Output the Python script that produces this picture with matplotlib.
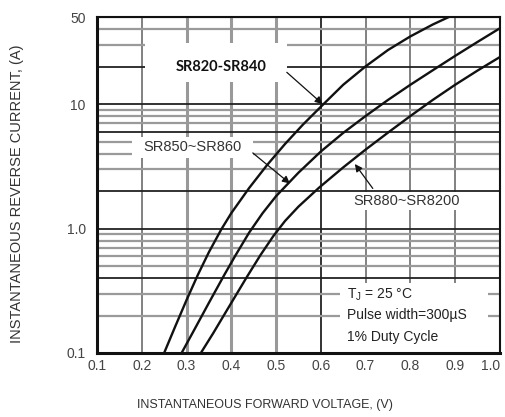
"""
Curva IR vs VF (SR820..SR8200) - recreacion del grafico de hoja de datos.
"""
import matplotlib
matplotlib.use("Agg")
import matplotlib.pyplot as plt
from matplotlib.patches import Rectangle
from matplotlib.ticker import FixedLocator, NullLocator

# ------------------------------------------------------------------ datos
SERIES = ["SR820-SR840", "SR850~SR860", "SR880~SR8200"]
V_820 = [0.250, 0.275, 0.30, 0.325, 0.35, 0.378, 0.40, 0.44, 0.48, 0.52, 0.56, 0.602,
         0.65, 0.70, 0.75, 0.80, 0.85, 0.89]
I_820 = [0.1, 0.164, 0.266, 0.422, 0.646, 0.989, 1.33, 2.12, 3.24, 4.78, 6.84, 9.68,
         14.3, 20.1, 27.2, 35.0, 43.6, 50.9]
V_850 = [0.289, 0.32, 0.35, 0.385, 0.41, 0.44, 0.47, 0.50, 0.55, 0.60, 0.65, 0.70,
         0.75, 0.80, 0.85, 0.90, 0.95, 1.0]
I_850 = [0.1, 0.160, 0.253, 0.428, 0.614, 0.929, 1.33, 1.82, 2.81, 4.16, 5.87, 8.02,
         10.8, 14.3, 18.7, 24.4, 31.6, 40.7]
V_880 = [0.332, 0.36, 0.39, 0.434, 0.465, 0.494, 0.52, 0.55, 0.596, 0.65, 0.70, 0.75,
         0.80, 0.85, 0.90, 0.95, 1.0]
I_880 = [0.1, 0.145, 0.220, 0.404, 0.611, 0.871, 1.15, 1.50, 2.13, 3.10, 4.31, 5.90,
         8.02, 10.8, 14.3, 18.6, 23.9]

X_TICKS = [0.1, 0.2, 0.3, 0.4, 0.5, 0.6, 0.7, 0.8, 0.9, 1.0]
X_LABELS = ["0.1", "0.2", "0.3", "0.4", "0.5", "0.6", "0.7", "0.8", "0.9", "1.0"]
Y_TICKS = [0.1, 1.0, 10.0, 50.0]
Y_LABELS = ["0.1", "1.0", "10", "50"]

COND = ["T$_\\mathregular{J}$ = 25 °C", "Pulse width=300µS", "1% Duty Cycle"]

SANS = ["Liberation Sans", "DejaVu Sans"]
plt.rcParams["font.family"] = SANS
plt.rcParams["mathtext.fontset"] = "custom"
plt.rcParams["mathtext.rm"] = "Liberation Sans"

fig = plt.figure(figsize=(5.05, 4.17), dpi=100)
ax = fig.add_axes([0.192, 0.1535, 0.798, 0.8055])
ax.set_yscale("log")
ax.set_xlim(0.1, 1.0)
ax.set_ylim(0.1, 50)

# rejilla (tipo papel logaritmico escaneado)
vcol = {0.6: "#222222", 0.3: "#999999", 0.4: "#999999", 0.5: "#999999"}
for x in X_TICKS[1:-1]:
    c = vcol.get(round(x, 1), "#777777")
    lw = 2.2 if c == "#999999" else 1.3
    ax.axvline(x, color=c, lw=lw, zorder=1)
dark_h = {2.0, 0.4, 10.0, 20.0, 1.0, 6.0}
for dec in (0.1, 1.0, 10.0):
    for k in range(1, 10):
        y = dec * k
        if y <= 0.1 or y > 50:
            continue
        dark = any(abs(y - d) < 1e-9 for d in dark_h)
        ax.axhline(y, color="#222222" if dark else "#9a9a9a", lw=1.3 if dark else 1.6, zorder=1)

# zonas blancas de las etiquetas
for (x0, y0, w, h) in [(0.119, 0.807, 0.352, 0.116), (0.087, 0.580, 0.300, 0.063),
                       (0.620, 0.426, 0.298, 0.053), (0.603, 0.004, 0.367, 0.204)]:
    ax.add_patch(Rectangle((x0, y0), w, h, transform=ax.transAxes, facecolor="white",
                           edgecolor="none", zorder=2))

# curvas
for v, i in [(V_820, I_820), (V_850, I_850), (V_880, I_880)]:
    ax.plot(v, i, color="#111111", lw=1.7, zorder=4, solid_joinstyle="round")

ap = dict(arrowstyle="-|>", color="#111111", lw=0.9, mutation_scale=11, shrinkA=0, shrinkB=0)
ax.annotate("", xy=(0.604, 10.0), xytext=(0.524, 18.0), arrowprops=ap, zorder=5)
ax.annotate("", xy=(0.531, 2.3), xytext=(0.448, 4.05), arrowprops=ap, zorder=5)
ax.annotate("", xy=(0.676, 3.3), xytext=(0.716, 2.1), arrowprops=ap, zorder=5)

ax.text(0.308, 0.851, SERIES[0], transform=ax.transAxes, ha="center", va="center",
        fontsize=10.5, fontweight="bold", family=["Lato", "DejaVu Sans"], color="#111111", zorder=6)
ax.text(0.238, 0.613, SERIES[1], transform=ax.transAxes, ha="center", va="center",
        fontsize=10.5, color="#333333", zorder=6)
ax.text(0.769, 0.452, SERIES[2], transform=ax.transAxes, ha="center", va="center",
        fontsize=10.5, color="#333333", zorder=6)

for txt, yf in zip(COND, [0.173, 0.113, 0.048]):
    ax.text(0.62, yf, txt, transform=ax.transAxes, ha="left", va="center",
            fontsize=10, color="#222222", zorder=6)

# ejes
ax.xaxis.set_major_locator(FixedLocator(X_TICKS))
ax.set_xticklabels(X_LABELS)
ax.yaxis.set_major_locator(FixedLocator(Y_TICKS))
ax.yaxis.set_minor_locator(NullLocator())
ax.set_yticklabels(Y_LABELS)
ax.tick_params(length=0, pad=4, labelsize=10, labelcolor="#444444")
ax.tick_params(axis="y", pad=8)
ax.get_xticklabels()[-1].set_horizontalalignment("right")
for s in ("left", "bottom"):
    ax.spines[s].set_linewidth(2.2)
for s in ("top", "right"):
    ax.spines[s].set_linewidth(1.5)
for s in ax.spines.values():
    s.set_color("#111111")
    s.set_zorder(7)

fig.text(0.525, 0.029, "INSTANTANEOUS FORWARD VOLTAGE, (V)", ha="center", va="center",
         fontsize=9, color="#333333")
fig.text(0.034, 0.535, "INSTANTANEOUS REVERSE CURRENT, (A)", ha="center", va="center",
         rotation=90, fontsize=10.5, color="#333333")

fig.savefig("out.png", dpi=100, facecolor="white")
